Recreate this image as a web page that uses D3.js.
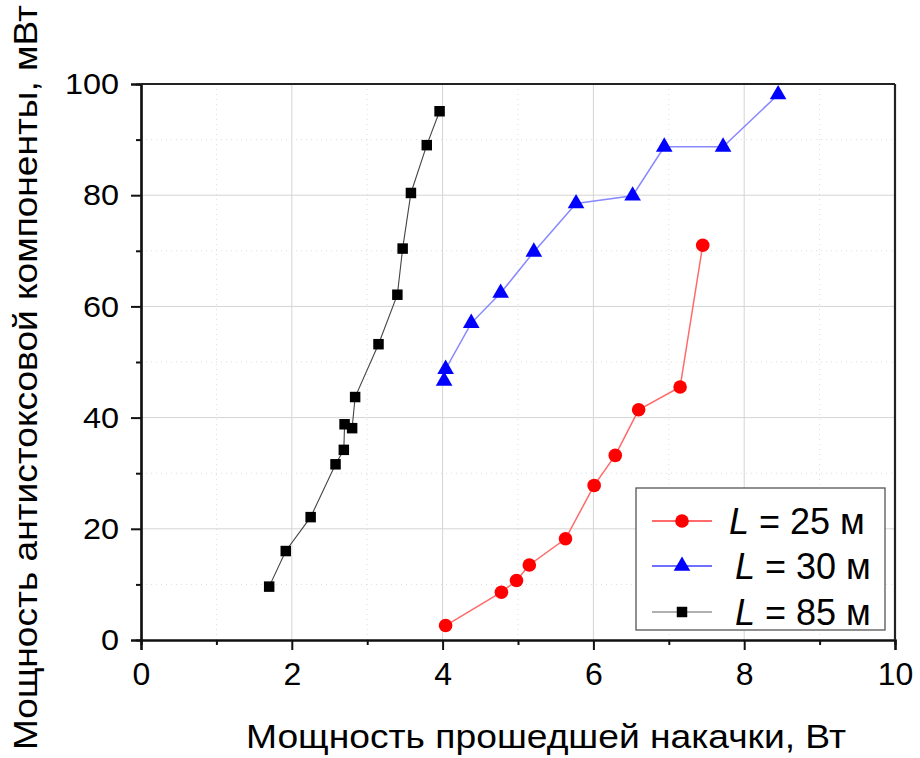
<!DOCTYPE html>
<html>
<head>
<meta charset="utf-8">
<script src="https://cdn.jsdelivr.net/npm/d3@7"></script>
<style>
  body { margin: 0; background: #fff; }
  svg text { font-family: "Liberation Sans", Arial, sans-serif; fill: #000; }
</style>
</head>
<body>
<div id="chart"></div>
<script>
// L = 25 m (red circles)
const x25 = [4.04, 4.78, 4.98, 5.15, 5.63, 6.01, 6.29, 6.60, 7.15, 7.45];
const y25 = [2.6, 8.6, 10.7, 13.5, 18.2, 27.8, 33.2, 41.4, 45.5, 71.0];
// L = 30 m (blue triangles)
const x30 = [4.02, 4.04, 4.38, 4.77, 5.21, 5.77, 6.52, 6.94, 7.72, 8.45];
const y30 = [46.6, 48.7, 57.0, 62.4, 69.8, 78.5, 79.9, 88.7, 88.7, 98.1];
// L = 85 m (black squares)
const x85 = [1.70, 1.92, 2.25, 2.58, 2.69, 2.70, 2.80, 2.84, 3.15, 3.40, 3.47, 3.58, 3.79, 3.96];
const y85 = [9.6, 16.0, 22.1, 31.6, 34.2, 38.8, 38.1, 43.7, 53.2, 62.1, 70.4, 80.4, 89.0, 95.1];

const xTicks = [0, 2, 4, 6, 8, 10];
const yTicks = [0, 20, 40, 60, 80, 100];
const xMinor = [1, 3, 5, 7, 9];
const yMinor = [10, 30, 50, 70, 90];
const seriesNames = ["25", "30", "85"];

const width = 920, height = 758;
const svg = d3.select("#chart").append("svg")
    .attr("width", width)
    .attr("height", height);

const x = d3.scaleLinear().domain([0, 10]).range([141, 895]);
const y = d3.scaleLinear().domain([0, 100]).range([640, 84]);

// grid
const grid = svg.append("g");
grid.selectAll(".gmx").data(xMinor).enter().append("line")
    .attr("x1", d => x(d)).attr("x2", d => x(d))
    .attr("y1", y(100)).attr("y2", y(0))
    .attr("stroke", "#dcdcdc").attr("stroke-dasharray", "1,4");
grid.selectAll(".gmy").data(yMinor).enter().append("line")
    .attr("x1", x(0)).attr("x2", x(10))
    .attr("y1", d => y(d)).attr("y2", d => y(d))
    .attr("stroke", "#dcdcdc").attr("stroke-dasharray", "1,4");
grid.selectAll(".gx").data(xTicks.slice(1, -1)).enter().append("line")
    .attr("x1", d => x(d)).attr("x2", d => x(d))
    .attr("y1", y(100)).attr("y2", y(0))
    .attr("stroke", "#d4d4d4");
grid.selectAll(".gy").data(yTicks.slice(1, -1)).enter().append("line")
    .attr("x1", x(0)).attr("x2", x(10))
    .attr("y1", d => y(d)).attr("y2", d => y(d))
    .attr("stroke", "#d4d4d4");

// axes
const xAxis = svg.append("g")
    .attr("transform", `translate(0,${y(0)})`)
    .call(d3.axisBottom(x).tickValues(xTicks).tickSize(10).tickPadding(12));
const xAxisMinor = svg.append("g")
    .attr("transform", `translate(0,${y(0)})`)
    .call(d3.axisBottom(x).tickValues(xMinor).tickSize(5).tickFormat(""));
const yAxis = svg.append("g")
    .attr("transform", `translate(${x(0)},0)`)
    .call(d3.axisLeft(y).tickValues(yTicks).tickSize(10).tickPadding(12));
const yAxisMinor = svg.append("g")
    .attr("transform", `translate(${x(0)},0)`)
    .call(d3.axisLeft(y).tickValues(yMinor).tickSize(5).tickFormat(""));

[xAxis, xAxisMinor, yAxis, yAxisMinor].forEach(a => {
    a.select(".domain").attr("stroke", "#111").attr("stroke-width", 2.2);
    a.selectAll(".tick line").attr("stroke", "#111").attr("stroke-width", 2);
});
xAxis.selectAll(".tick text").attr("font-size", 32).attr("font-family", "Liberation Sans, Arial, sans-serif");
yAxis.selectAll(".tick text").attr("font-size", 30).attr("font-family", "Liberation Sans, Arial, sans-serif")
    .attr("transform", "scale(1.08,1)").attr("x", -22 / 1.08);

// top and right frame
svg.append("line").attr("x1", x(0)).attr("x2", x(10)).attr("y1", y(100)).attr("y2", y(100))
    .attr("stroke", "#222").attr("stroke-width", 2.2);
svg.append("line").attr("x1", x(10)).attr("x2", x(10)).attr("y1", y(100)).attr("y2", y(0))
    .attr("stroke", "#222").attr("stroke-width", 2.2);

// series
const line = d3.line().x(d => x(d[0])).y(d => y(d[1]));
const d25 = x25.map((v, i) => [v, y25[i]]);
const d30 = x30.map((v, i) => [v, y30[i]]);
const d85 = x85.map((v, i) => [v, y85[i]]);

svg.append("path").datum(d85).attr("d", line)
    .attr("fill", "none").attr("stroke", "#444").attr("stroke-width", 1.1);
svg.append("path").datum(d30).attr("d", line)
    .attr("fill", "none").attr("stroke", "#8888ff").attr("stroke-width", 1.5);
svg.append("path").datum(d25).attr("d", line)
    .attr("fill", "none").attr("stroke", "#ff6a6a").attr("stroke-width", 1.5);

const sq = d3.symbol().type(d3.symbolSquare).size(110);
const tri = d3.symbol().type(d3.symbolTriangle).size(120);

svg.append("g").selectAll("path").data(d85).enter().append("path")
    .attr("d", sq).attr("transform", d => `translate(${x(d[0])},${y(d[1])})`)
    .attr("fill", "#000");
svg.append("g").selectAll("path").data(d30).enter().append("path")
    .attr("d", tri).attr("transform", d => `translate(${x(d[0])},${y(d[1])})`)
    .attr("fill", "#0000ff");
svg.append("g").selectAll("circle").data(d25).enter().append("circle")
    .attr("cx", d => x(d[0])).attr("cy", d => y(d[1])).attr("r", 6.8)
    .attr("fill", "#ff0000");

// legend
const legend = svg.append("g");
legend.append("rect")
    .attr("x", 636).attr("y", 488).attr("width", 249).attr("height", 142)
    .attr("fill", "#fff").attr("stroke", "#555").attr("stroke-width", 1.3);
const legColors = ["#ff6a6a", "#7070ff", "#b0b0b0"];
const rowY = [521, 566, 612];
const textX = [729, 735, 735];
seriesNames.forEach((name, i) => {
    legend.append("line")
        .attr("x1", 652).attr("x2", 712).attr("y1", rowY[i]).attr("y2", rowY[i])
        .attr("stroke", legColors[i]).attr("stroke-width", 2);
    if (i === 0) {
        legend.append("circle").attr("cx", 682).attr("cy", rowY[i]).attr("r", 6.8).attr("fill", "#ff0000");
    } else if (i === 1) {
        legend.append("path").attr("d", tri).attr("transform", `translate(682,${rowY[i]})`).attr("fill", "#0000ff");
    } else {
        legend.append("path").attr("d", sq).attr("transform", `translate(682,${rowY[i]})`).attr("fill", "#000");
    }
    const t = legend.append("text")
        .attr("x", textX[i]).attr("y", rowY[i] + 13)
        .attr("font-size", 36);
    t.append("tspan").attr("font-style", "italic").text("L");
    t.append("tspan").text(` = ${name} м`);
});

// axis titles
svg.append("text")
    .attr("x", 246).attr("y", 748)
    .attr("font-size", 34)
    .attr("textLength", 600).attr("lengthAdjust", "spacingAndGlyphs")
    .text("Мощность прошедшей накачки, Вт");

svg.append("text")
    .attr("transform", "translate(37,750) rotate(-90)")
    .attr("x", 0).attr("y", 0)
    .attr("font-size", 34)
    .attr("textLength", 745).attr("lengthAdjust", "spacingAndGlyphs")
    .text("Мощность антистоксовой компоненты, мВт");
</script>
</body>
</html>
